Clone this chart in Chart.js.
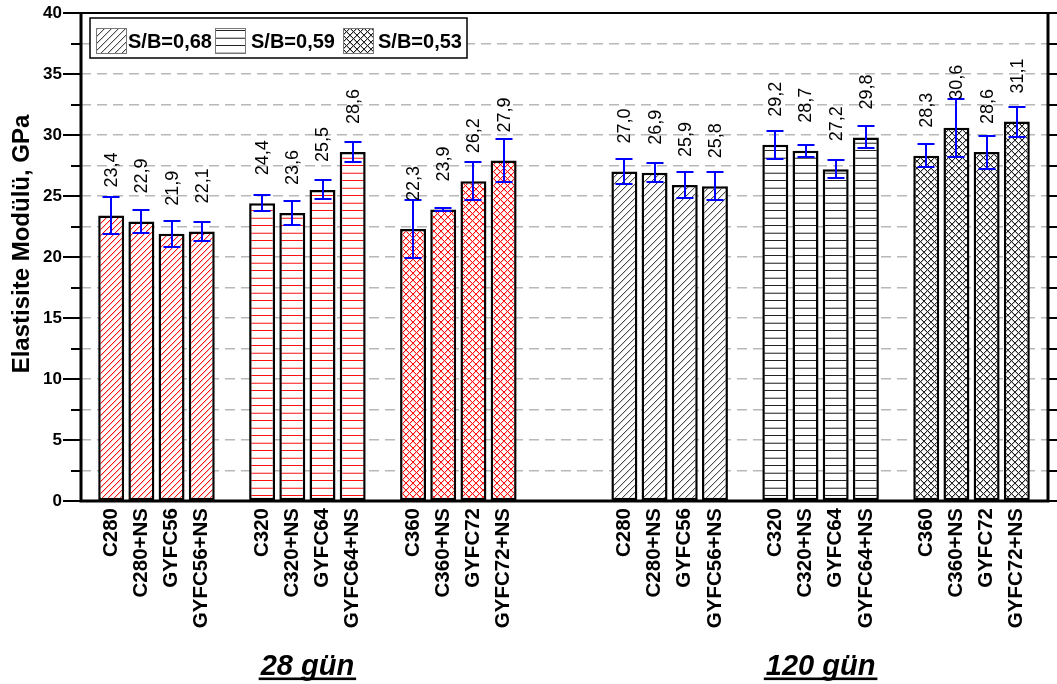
<!DOCTYPE html>
<html>
<head>
<meta charset="utf-8">
<script src="https://cdn.jsdelivr.net/npm/chart.js@4.4.1/dist/chart.umd.min.js"></script>
<style>
  html, body { margin: 0; padding: 0; background: #fff; }
  canvas { display: block; }
</style>
</head>
<body>
<canvas id="chart" width="1057" height="684"></canvas>
<script>
const FONT = "'Liberation Sans', Arial, Helvetica, sans-serif";

// Mix designations for each S/B ratio
const mixes068 = ['C280', 'C280+NS', 'GYFC56', 'GYFC56+NS'];
const mixes059 = ['C320', 'C320+NS', 'GYFC64', 'GYFC64+NS'];
const mixes053 = ['C360', 'C360+NS', 'GYFC72', 'GYFC72+NS'];
const ratioLabels = ['S/B=0,68', 'S/B=0,59', 'S/B=0,53'];
const ageLabels = ['28 gün', '120 gün'];

// Elastic modulus (GPa) and standard deviation, 28 days
const e28_068 = [23.4, 22.9, 21.9, 22.1];
const sd28_068 = [1.5, 0.95, 1.05, 0.8];
const e28_059 = [24.4, 23.6, 25.5, 28.6];
const sd28_059 = [0.65, 0.98, 0.78, 0.85];
const e28_053 = [22.3, 23.9, 26.2, 27.9];
const sd28_053 = [2.4, 0.15, 1.55, 1.75];

// Elastic modulus (GPa) and standard deviation, 120 days
const e120_068 = [27.0, 26.9, 25.9, 25.8];
const sd120_068 = [1.03, 0.78, 1.1, 1.13];
const e120_059 = [29.2, 28.7, 27.2, 29.8];
const sd120_059 = [1.16, 0.5, 0.74, 0.9];
const e120_053 = [28.3, 30.6, 28.6, 31.1];
const sd120_053 = [0.95, 2.38, 1.35, 1.23];

// Value axis
const yMin = 0, yMax = 40, yStep = 2.5, yLabelStep = 5;
const yTitle = 'Elastisite Modülü, GPa';

// ---- hatch fills, drawn pixel by pixel so the lines stay crisp ----
function hatch(kind, dark) {
  const c = document.createElement('canvas');
  const g = c.getContext('2d');
  let ink = dark ? '#222' : '#ff1010';
  let halo = dark ? '#bdbdbd' : '#ffc0c0';
  if (dark && kind === 'diag') { ink = '#4a4a4a'; halo = '#d2d2d2'; }
  const dot = (x, y, col) => { g.fillStyle = col; g.fillRect(x, y, 1, 1); };
  let w, h;
  if (kind === 'diag') { w = h = dark ? 7 : 6; }
  else if (kind === 'horiz') { w = 4; h = 15; }
  else { w = h = 7; }
  c.width = w; c.height = h;
  g.fillStyle = '#fff';
  g.fillRect(0, 0, w, h);
  if (kind === 'horiz') {
    g.fillStyle = ink; g.fillRect(0, 0, w, 1);
    g.fillStyle = halo; g.fillRect(0, 7, w, 1);
    g.fillStyle = ink; g.globalAlpha = 0.75; g.fillRect(0, 8, w, 1); g.globalAlpha = 1;
  } else {
    for (let i = 0; i < w; i++) dot(i, (h - i) % h, halo);
    if (kind === 'cross') for (let i = 0; i < w; i++) dot(i, (i + 1) % h, halo);
    for (let i = 0; i < w; i++) dot(i, h - 1 - i, ink);
    if (kind === 'cross') for (let i = 0; i < w; i++) dot(i, i, ink);
  }
  return c;
}
const ctxMain = document.getElementById('chart').getContext('2d');
const kinds = ['diag', 'horiz', 'cross'];
const redFills = kinds.map(k => ctxMain.createPattern(hatch(k, false), 'repeat'));
const blackFills = kinds.map(k => ctxMain.createPattern(hatch(k, true), 'repeat'));

// ---- groups of bars ----
const groups = [
  { age: 0, ratio: 0, mixes: mixes068, values: e28_068, errors: sd28_068 },
  { age: 0, ratio: 1, mixes: mixes059, values: e28_059, errors: sd28_059 },
  { age: 0, ratio: 2, mixes: mixes053, values: e28_053, errors: sd28_053 },
  { age: 1, ratio: 0, mixes: mixes068, values: e120_068, errors: sd120_068 },
  { age: 1, ratio: 1, mixes: mixes059, values: e120_059, errors: sd120_059 },
  { age: 1, ratio: 2, mixes: mixes053, values: e120_053, errors: sd120_053 }
];

// category slots: blank slots separate the groups and the two ages
const labels = [''];
groups.forEach((g, gi) => {
  if (gi > 0) labels.push('');
  if (gi > 0 && g.age !== groups[gi - 1].age) labels.push('', '');
  g.start = labels.length;
  labels.push(...g.mixes);
});
labels.push('');

const datasets = groups.map(g => {
  const slot = k => (k >= g.start && k < g.start + g.values.length) ? k - g.start : -1;
  return {
    label: ratioLabels[g.ratio] + ' ' + ageLabels[g.age],
    data: labels.map((_, k) => slot(k) >= 0 ? g.values[slot(k)] : null),
    errors: labels.map((_, k) => slot(k) >= 0 ? g.errors[slot(k)] : null),
    backgroundColor: (g.age === 0 ? redFills : blackFills)[g.ratio],
    borderColor: '#000',
    borderWidth: 2.5,
    borderSkipped: false,
    grouped: false,
    categoryPercentage: 1,
    barPercentage: 0.86
  };
});

const fmt = v => v.toFixed(1).replace('.', ',');
const noOverflow = s => { s.paddingLeft = 0; s.paddingRight = 0; s.paddingTop = 0; s.paddingBottom = 0; };

// ---- decorations: frame, tick marks, error bars, value labels, titles, legend ----
const decorations = {
  id: 'decorations',
  afterDatasetsDraw(chart) {
    const ctx = chart.ctx;
    const a = chart.chartArea;
    const ys = chart.scales.y, xs = chart.scales.x;
    ctx.save();

    // error bars
    ctx.strokeStyle = '#0000ff';
    ctx.lineWidth = 2;
    chart.data.datasets.forEach((ds, di) => {
      chart.getDatasetMeta(di).data.forEach((bar, i) => {
        const v = ds.data[i];
        if (v == null) return;
        const e = ds.errors[i];
        const t = Math.round(ys.getPixelForValue(v + e));
        const b = Math.round(ys.getPixelForValue(v - e));
        const x = Math.round(bar.x);
        ctx.beginPath();
        ctx.moveTo(x, t); ctx.lineTo(x, b);
        ctx.moveTo(x - 8.5, t); ctx.lineTo(x + 8.5, t);
        ctx.moveTo(x - 8.5, b); ctx.lineTo(x + 8.5, b);
        ctx.stroke();
      });
    });

    // value labels
    ctx.fillStyle = '#000';
    ctx.font = '18px ' + FONT;
    ctx.textAlign = 'left';
    ctx.textBaseline = 'middle';
    chart.data.datasets.forEach((ds, di) => {
      chart.getDatasetMeta(di).data.forEach((bar, i) => {
        const v = ds.data[i];
        if (v == null) return;
        ctx.save();
        ctx.translate(bar.x + 1, bar.y - 28);
        ctx.rotate(-Math.PI / 2);
        ctx.fillText(fmt(v), 0, 0);
        ctx.restore();
      });
    });

    // plot frame
    ctx.strokeStyle = '#000';
    ctx.lineWidth = 2;
    ctx.beginPath();
    ctx.moveTo(a.left, a.top); ctx.lineTo(a.right + 1, a.top);
    ctx.stroke();
    ctx.lineWidth = 3;
    ctx.beginPath();
    ctx.moveTo(a.left, a.top - 1); ctx.lineTo(a.left, a.bottom + 1.5);
    ctx.moveTo(a.left - 1.5, a.bottom); ctx.lineTo(a.right + 1.5, a.bottom);
    ctx.moveTo(a.right + 1, a.top - 1); ctx.lineTo(a.right + 1, a.bottom + 1.5);
    ctx.stroke();

    // tick marks on both value axes
    ctx.lineWidth = 2;
    ctx.beginPath();
    ys.ticks.forEach(tk => {
      const p = Math.round(ys.getPixelForValue(tk.value));
      const major = tk.value % yLabelStep === 0;
      ctx.moveTo(a.left - (major ? 18 : 10), p); ctx.lineTo(a.left, p);
      ctx.moveTo(a.right + 1, p); ctx.lineTo(a.right + 12, p);
    });
    ctx.stroke();

    // age titles under each half
    ctx.fillStyle = '#000';
    ctx.font = 'italic bold 29px ' + FONT;
    ctx.textAlign = 'center';
    ctx.textBaseline = 'alphabetic';
    ageLabels.forEach((txt, ai) => {
      const gs = groups.filter(g => g.age === ai);
      const last = gs[gs.length - 1];
      const x0 = xs.getPixelForValue(gs[0].start);
      const x1 = xs.getPixelForValue(last.start + last.values.length - 1);
      const cx = (x0 + x1) / 2;
      const w = ctx.measureText(txt).width;
      ctx.fillText(txt, cx, 675);
      ctx.fillRect(cx - w / 2 - 2, 677.5, w + 4, 2.6);
    });

    // value axis title
    ctx.save();
    ctx.font = 'bold 24px ' + FONT;
    ctx.translate(22, 244);
    ctx.rotate(-Math.PI / 2);
    ctx.textAlign = 'center';
    ctx.textBaseline = 'middle';
    ctx.fillText(yTitle, 0, 0);
    ctx.restore();

    // legend
    const lx = 90, ly = 18, lw = 377, lh = 40;
    ctx.fillStyle = '#fff';
    ctx.fillRect(lx, ly, lw, lh);
    ctx.strokeStyle = '#000';
    ctx.lineWidth = 1.5;
    ctx.strokeRect(lx, ly, lw, lh);
    const patchX = [96, 215, 343], textX = [128, 251, 378];
    ctx.font = 'bold 20px ' + FONT;
    ctx.textAlign = 'left';
    ctx.textBaseline = 'alphabetic';
    ratioLabels.forEach((txt, ri) => {
      ctx.fillStyle = blackFills[ri];
      ctx.fillRect(patchX[ri], 28, 30, 25);
      ctx.strokeStyle = '#777';
      ctx.lineWidth = 1;
      ctx.strokeRect(patchX[ri] + 0.5, 28.5, 30, 25);
      ctx.fillStyle = '#000';
      ctx.fillText(txt, textX[ri], 48);
    });

    ctx.restore();
  }
};

new Chart(ctxMain, {
  type: 'bar',
  data: { labels, datasets },
  options: {
    responsive: false,
    animation: false,
    devicePixelRatio: 1,
    layout: { padding: { top: 13, right: 10, left: 0, bottom: 0 } },
    plugins: { legend: { display: false }, tooltip: { enabled: false } },
    scales: {
      x: {
        type: 'category',
        offset: false,
        grid: { display: false, drawTicks: false },
        border: { display: false },
        ticks: {
          autoSkip: false,
          maxRotation: 90,
          minRotation: 90,
          padding: 7,
          color: '#000',
          font: { family: FONT, size: 20.5, weight: 'bold' }
        },
        afterFit: s => { s.height = 183; noOverflow(s); }
      },
      y: {
        min: yMin,
        max: yMax,
        grid: { color: '#b8b8b8', lineWidth: 1.5, drawTicks: false },
        border: { display: false, dash: [10, 6] },
        ticks: {
          stepSize: yStep,
          padding: 19,
          color: '#000',
          font: { family: FONT, size: 17, weight: 'bold' },
          callback: v => (v % yLabelStep === 0 ? String(v) : '')
        },
        afterFit: s => { s.width = 81; noOverflow(s); }
      }
    }
  },
  plugins: [decorations]
});
</script>
</body>
</html>
